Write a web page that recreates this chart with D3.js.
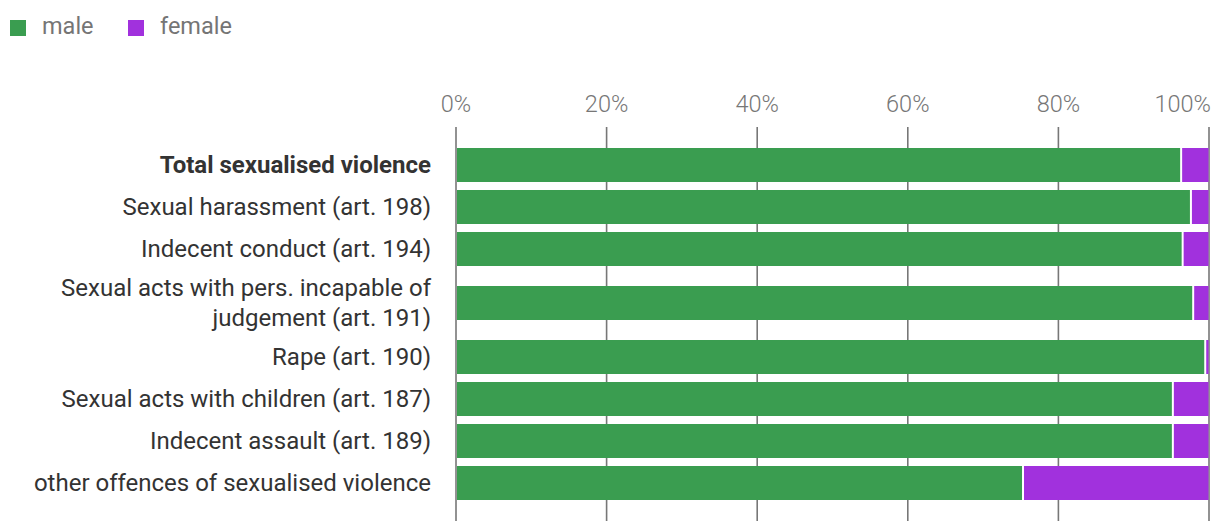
<!DOCTYPE html>
<html><head><meta charset="utf-8">
<script src="https://cdn.jsdelivr.net/npm/d3@7"></script>
<style>
body{margin:0;background:#fff;}
svg{display:block;font-family:Roboto,"Noto Sans",sans-serif;}
</style></head>
<body><svg id="c" width="1220" height="530"></svg>
<script>
const categories = [
  ["Total sexualised violence"],
  ["Sexual harassment (art. 198)"],
  ["Indecent conduct (art. 194)"],
  ["Sexual acts with pers. incapable of","judgement (art. 191)"],
  ["Rape (art. 190)"],
  ["Sexual acts with children (art. 187)"],
  ["Indecent assault (art. 189)"],
  ["other offences of sexualised violence"]
];
const maleShare   = [96.3, 97.6, 96.5, 97.9, 99.5, 95.2, 95.2, 75.3];
const femaleShare = maleShare.map(v => 100 - v);
const seriesNames = ["male", "female"];
const seriesColors = ["#3a9d50", "#a131dd"];
const tickValues = [0, 20, 40, 60, 80, 100];

const svg = d3.select("#c");
const x = d3.scaleLinear().domain([0, 100]).range([456, 1209]);

const units = categories.map(c => c.length === 1 ? 1 : 66/42);
const cum = [0]; units.forEach(u => cum.push(cum[cum.length-1] + u));
const y = d3.scaleLinear().domain([0, cum[cum.length-1]]).range([144, 504]);
const rows = categories.map((c, i) => ({
  label: c, male: maleShare[i], female: femaleShare[i],
  cy: (y(cum[i]) + y(cum[i+1])) / 2, bold: i === 0
}));
const barH = 34;
const fs = 23.5, labFs = 24;

svg.append("g").selectAll("line").data(tickValues).join("line")
  .attr("x1", d => x(d)).attr("x2", d => x(d))
  .attr("y1", 127).attr("y2", 521)
  .attr("stroke", "#777").attr("stroke-width", 1.6);

svg.append("g").selectAll("text").data(tickValues).join("text")
  .attr("x", d => d === 100 ? x(d) + 2 : x(d))
  .attr("y", 112)
  .attr("text-anchor", d => d === 100 ? "end" : "middle")
  .attr("fill", "#777").attr("font-size", fs).attr("font-weight", 300)
  .text(d => d + "%");

const g = svg.append("g");
g.selectAll("rect.m").data(rows).join("rect").attr("class","m")
  .attr("x", x(0) + 1).attr("width", d => x(d.male) - x(0) - 2)
  .attr("y", d => d.cy - barH/2).attr("height", barH)
  .attr("fill", seriesColors[0]);
g.selectAll("rect.f").data(rows).join("rect").attr("class","f")
  .attr("x", d => x(d.male) + 1).attr("width", d => Math.max(0, x(100) - x(d.male) - 1.5))
  .attr("y", d => d.cy - barH/2).attr("height", barH)
  .attr("fill", seriesColors[1]);

const lab = svg.append("g").selectAll("text").data(rows).join("text")
  .attr("text-anchor", "end").attr("font-size", labFs)
  .attr("fill", "#333").attr("font-weight", d => d.bold ? 700 : 400);
lab.each(function(d) {
  const t = d3.select(this);
  const n = d.label.length, lh = 30;
  d.label.forEach((line, k) => {
    t.append("tspan").attr("x", 431)
      .attr("y", d.cy + 8 + (k - (n-1)/2) * lh).text(line);
  });
});

const leg = svg.append("g").selectAll("g").data(seriesNames).join("g")
  .attr("transform", (d, i) => `translate(${[10,128][i]},20)`);
leg.append("rect").attr("width", 16).attr("height", 16)
  .attr("fill", (d, i) => seriesColors[i]);
leg.append("text").attr("x", 32).attr("y", 14).attr("font-size", fs)
  .attr("fill", "#757575").text(d => d);
</script></body></html>
